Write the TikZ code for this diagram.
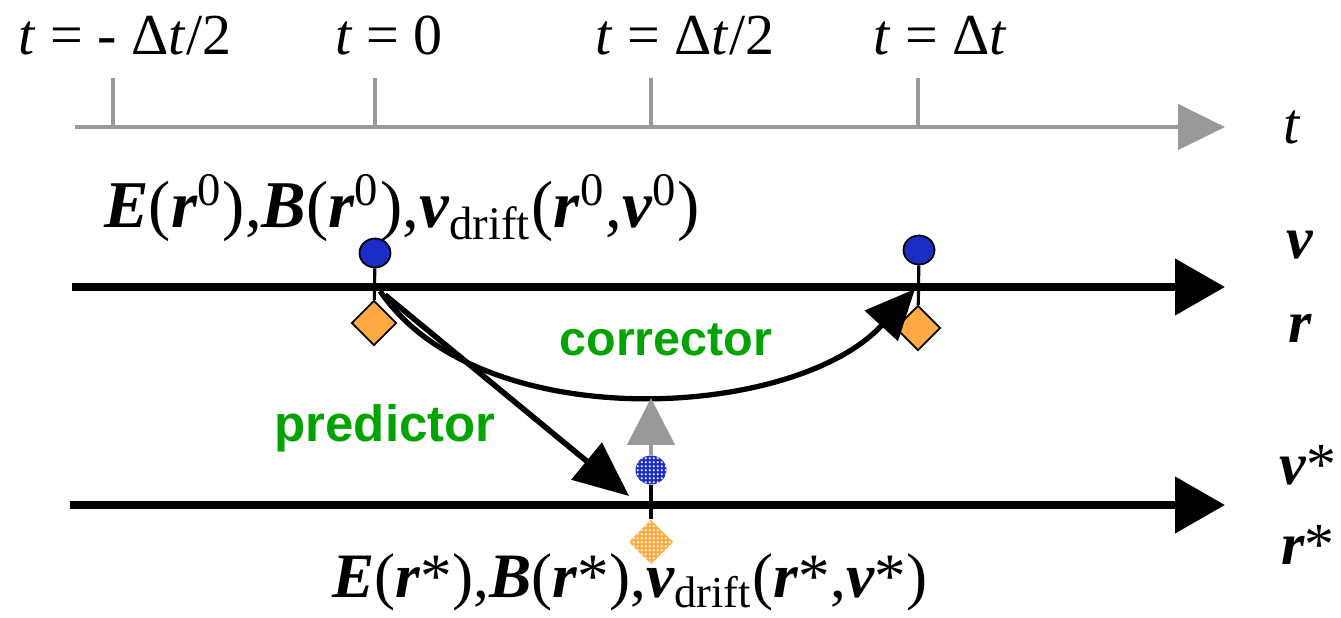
\documentclass[tikz,border=0pt]{standalone}
\usepackage{fontspec}
\setmainfont{Liberation Serif}
\setsansfont{Liberation Sans}
\usetikzlibrary{arrows.meta,shapes.geometric,patterns}
\definecolor{pgreen}{HTML}{00A300}
\definecolor{vblue}{HTML}{1A2DC4}
\definecolor{rorange}{HTML}{FFAA44}
\definecolor{axgray}{HTML}{999999}
\newcommand{\bi}[1]{\textbf{\textit{#1}}}
\newcommand{\supz}[1]{\textsuperscript{#1}}
\pgfdeclarepatternformonly{fineholes}{\pgfqpoint{0pt}{0pt}}{\pgfqpoint{1.2pt}{1.2pt}}{\pgfqpoint{1.2pt}{1.2pt}}{%
  \pgfpathrectangle{\pgfqpoint{0.3pt}{0.3pt}}{\pgfqpoint{0.6pt}{0.6pt}}\pgfusepath{fill}}

\begin{document}
\begin{tikzpicture}[font=\fontsize{16.5}{18}\selectfont,
  vdot/.style={draw=black,line width=0.5pt,fill=vblue,ellipse,minimum width=0.31cm,minimum height=0.29cm,inner sep=0pt},
  rdia/.style={draw=black,line width=0.5pt,fill=rorange,diamond,minimum size=0.45cm,inner sep=0pt},
  vstar/.style={vdot,draw=none,postaction={pattern=fineholes,pattern color=white}},
  rstar/.style={rdia,draw=none,postaction={pattern=fineholes,pattern color=white}},
  tline/.style={line width=2.3pt,-{Triangle[length=0.5cm,width=0.55cm]}},
  lbl/.style={font=\fontsize{17}{19}\selectfont\bfseries},
  fml/.style={font=\fontsize{19}{21}\selectfont},
  stepname/.style={text=pgreen,font=\fontsize{14.5}{16}\selectfont\sffamily\bfseries}]
  \useasboundingbox (0,0) rectangle (13.41,-6.18);

  % time axis
  \coordinate (a0) at (0.75,-1.27);
  \coordinate (a1) at (12.25,-1.27);
  \draw[axgray,line width=1.4pt,-{Triangle[length=0.47cm,width=0.45cm]}] (a0) -- (a1);
  \foreach \x in {1.13,3.75,6.51,9.18}{
    \draw[axgray,line width=1.4pt] (\x,-1.27) -- (\x,-0.78);
  }
  \node (ltm) at (1.25,-0.36) {\textit{t} = - Δ\textit{t}/2};
  \node (ltz) at (3.89,-0.36) {\textit{t} = 0};
  \node (lth) at (6.85,-0.36) {\textit{t} = Δ\textit{t}/2};
  \node (ltf) at (9.40,-0.36) {\textit{t} = Δ\textit{t}};
  \node (lt) at (12.92,-1.27) {\textit{t}};

  % real trajectory
  \coordinate (b0) at (0.72,-2.87);
  \coordinate (b1) at (12.25,-2.87);
  \draw[tline] (b0) -- (b1);
  \node[lbl] (lv) at (13.0,-2.45) {\bi{v}};
  \node[lbl] (lr) at (13.0,-3.28) {\bi{r}};

  \node[vdot] (v0) at (3.75,-2.53) {};
  \node[rdia] (r0) at (3.74,-3.23) {};
  \node[vdot] (v1) at (9.19,-2.50) {};
  \node[rdia] (r1) at (9.18,-3.28) {};
  \draw[line width=0.9pt] (v0) -- (r0);
  \draw[line width=0.9pt] (v1) -- (r1);
  \node[fml] (f0) at (4.02,-2.08)
    {\bi{E}(\bi{r}\supz{0}),\bi{B}(\bi{r}\supz{0}),\bi{v}\textsubscript{drift}(\bi{r}\supz{0},\bi{v}\supz{0})};

  % predicted trajectory
  \coordinate (c0) at (0.70,-5.05);
  \coordinate (c1) at (12.25,-5.05);
  \draw[tline] (c0) -- (c1);
  \node[lbl] (lvs) at (13.08,-4.65) {\bi{v}\textmd{*}};
  \node[lbl] (lrs) at (13.08,-5.45) {\bi{r}\textmd{*}};

  \node[vstar] (vs) at (6.51,-4.70) {};
  \node[rstar] (rs) at (6.51,-5.42) {};
  \draw[line width=0.9pt] (vs) -- (rs);
  \node[fml,font=\fontsize{18}{20}\selectfont] (fs) at (6.30,-5.82)
    {\bi{E}(\bi{r}*),\bi{B}(\bi{r}*),\bi{v}\textsubscript{drift}(\bi{r}*,\bi{v}*)};

  % predictor / corrector
  \coordinate (p0) at (3.85,-2.95);
  \coordinate (p1) at (3.80,-2.91);
  \coordinate (cb) at (6.51,-3.98);
  \coordinate (pe) at (6.29,-4.96);
  \coordinate (ce) at (9.15,-2.89);
  \draw[line width=1.6pt,-{Triangle[length=0.55cm,width=0.47cm]}] (p0) -- (pe);
  \draw[line width=1.5pt,-{Triangle[length=0.5cm,width=0.44cm]}] (p1) .. controls (4.8,-4.38) and (7.95,-4.2) .. (ce);
  \draw[axgray,line width=1.4pt,-{Triangle[length=0.47cm,width=0.47cm]}] (vs.north) -- (cb);
  \node[stepname,font=\fontsize{13.8}{16}\selectfont\sffamily\bfseries] (lc) at (6.66,-3.40) {corrector};
  \node[stepname] (lp) at (3.85,-4.28) {predictor};
\end{tikzpicture}
\end{document}
